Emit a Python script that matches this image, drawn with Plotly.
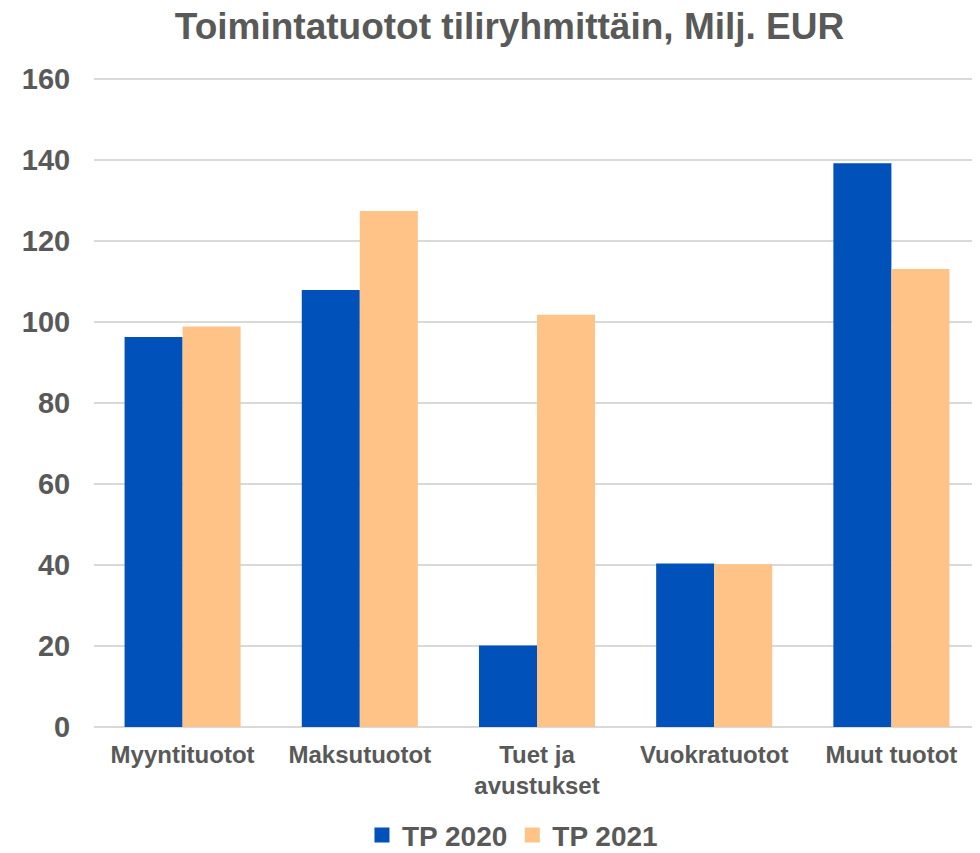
import plotly.graph_objects as go

categories = ["Myyntituotot", "Maksutuotot", "Tuet ja<br>avustukset", "Vuokratuotot", "Muut tuotot"]
tp2020 = [96.3, 107.9, 20.1, 40.4, 139.2]
tp2021 = [98.9, 127.4, 101.8, 40.2, 113.1]
series_names = ["TP 2020", "TP 2021"]
colors = ["#0051BA", "#FFC387"]
y_ticks = [0, 20, 40, 60, 80, 100, 120, 140, 160]

FONT = "Liberation Sans, Arial, sans-serif"
GREY = "#595959"

fig = go.Figure()
for name, vals, col in zip(series_names, [tp2020, tp2021], colors):
    fig.add_trace(go.Bar(x=categories, y=vals, name=name, marker=dict(color=col, line=dict(width=0)),
                         showlegend=False))
for name, col in zip(series_names, colors):
    fig.add_trace(go.Scatter(x=[None], y=[None], mode="markers", name=name,
                             marker=dict(symbol="square", size=15, color=col)))

# page body has an 8px margin, so the figure is sized 972x845
fig.update_layout(
    width=972, height=845,
    paper_bgcolor="white", plot_bgcolor="white",
    margin=dict(l=86, r=0, t=67, b=126, autoexpand=False),
    barmode="group", bargap=0.345, bargroupgap=0,
    title=dict(text="Toimintatuotot tiliryhmittäin, Milj. EUR", x=0.516, xanchor="center", xref="container",
               y=0.979, yanchor="middle", yref="container",
               font=dict(family=FONT, size=37, color=GREY, weight="bold")),
    legend=dict(orientation="h", x=0.519, xanchor="center", xref="container",
                y=0.021, yanchor="middle", yref="container",
                font=dict(family=FONT, size=28, color=GREY, weight="bold"),
                itemwidth=30, traceorder="normal"),
    xaxis=dict(showgrid=False, showline=False, ticks="outside", ticklen=6, tickcolor="rgba(0,0,0,0)",
               automargin=False,
               tickfont=dict(family=FONT, size=24, color=GREY, weight="bold")),
    yaxis=dict(range=[0, 161], tickvals=y_ticks, showgrid=True, gridcolor="#D9D9D9", gridwidth=1.5,
               zeroline=True, zerolinecolor="#D9D9D9", zerolinewidth=2, showline=False,
               ticks="outside", ticklen=17, tickcolor="rgba(0,0,0,0)", automargin=False,
               tickfont=dict(family=FONT, size=29, color=GREY, weight="bold")),
)

fig.write_html("out.html")
